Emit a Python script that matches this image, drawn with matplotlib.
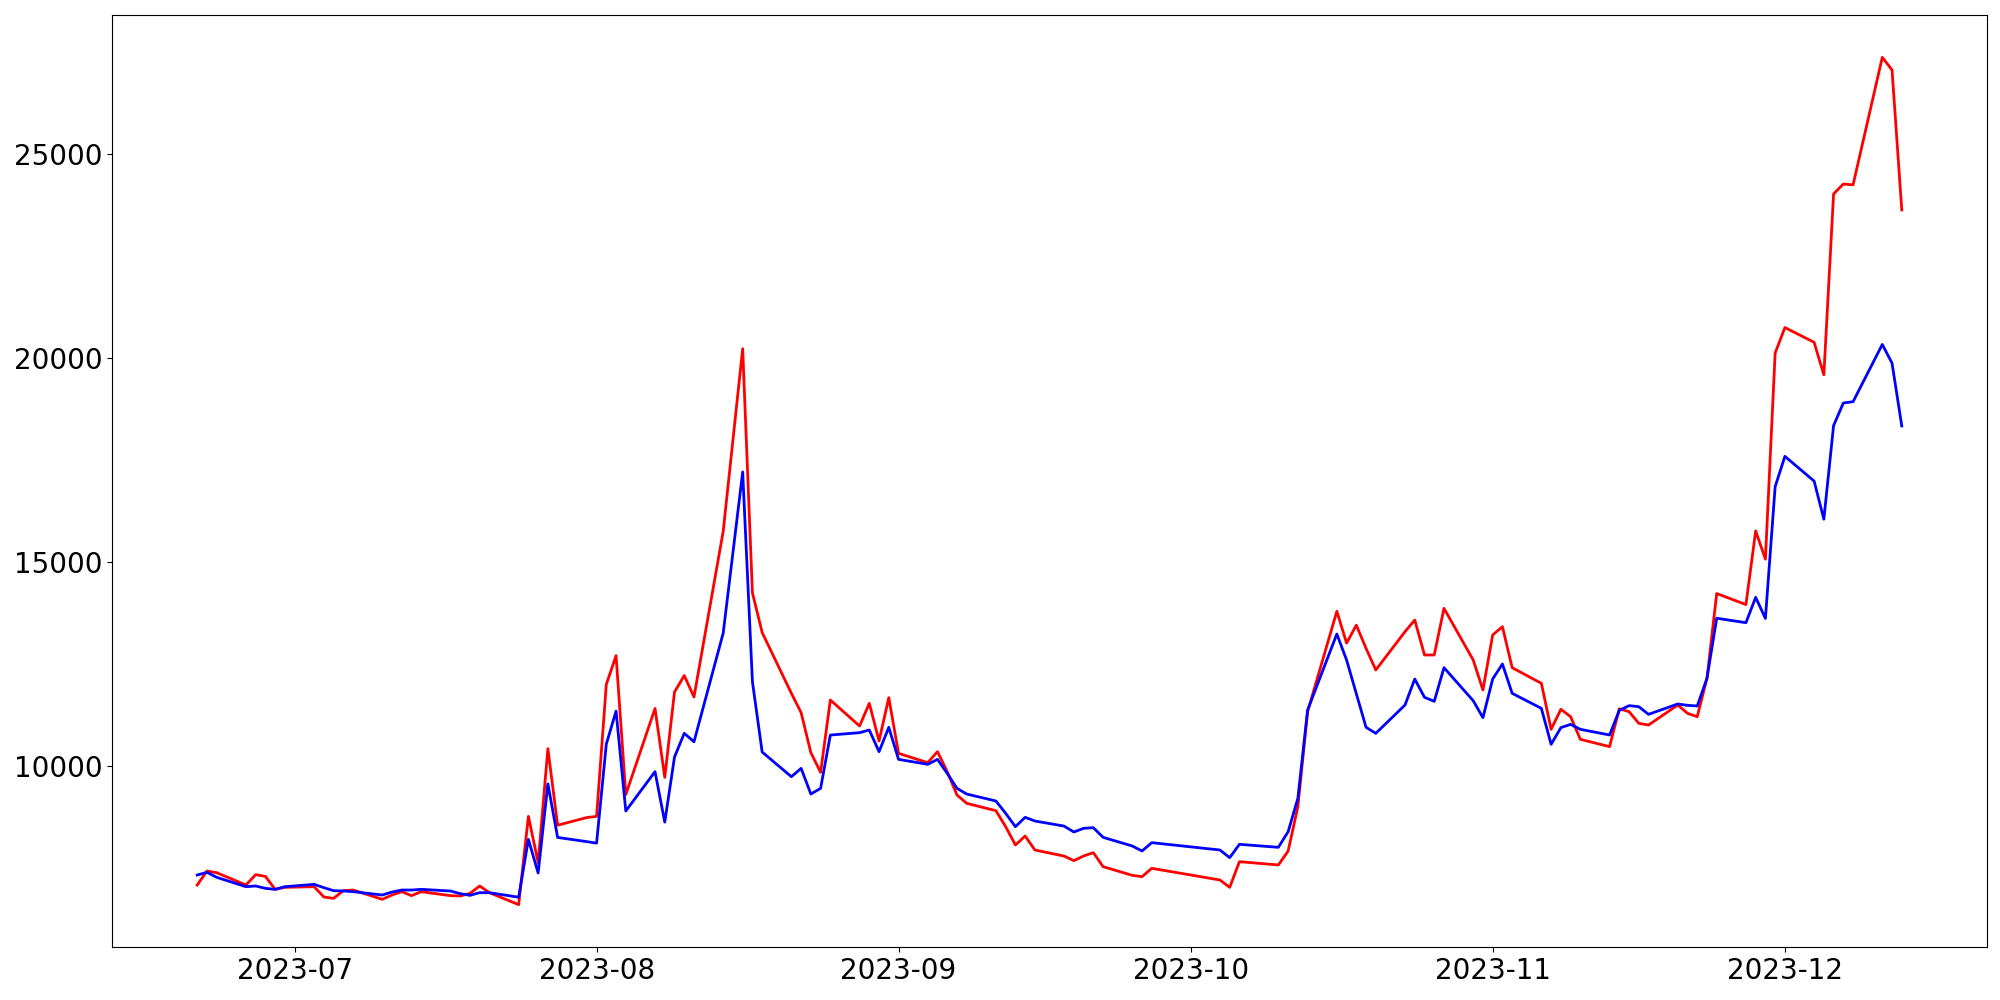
import numpy as np
import pandas as pd
import matplotlib
matplotlib.use('Agg')
import matplotlib.pyplot as plt
import matplotlib.dates as mdates

dates = ['2023-06-21', '2023-06-22', '2023-06-23', '2023-06-26', '2023-06-27', '2023-06-28',
         '2023-06-29', '2023-06-30', '2023-07-03', '2023-07-04', '2023-07-05', '2023-07-06',
         '2023-07-07', '2023-07-10', '2023-07-11', '2023-07-12', '2023-07-13', '2023-07-14',
         '2023-07-17', '2023-07-18', '2023-07-19', '2023-07-20', '2023-07-21', '2023-07-24',
         '2023-07-25', '2023-07-26', '2023-07-27', '2023-07-28', '2023-07-31', '2023-08-01',
         '2023-08-02', '2023-08-03', '2023-08-04', '2023-08-07', '2023-08-08', '2023-08-09',
         '2023-08-10', '2023-08-11', '2023-08-14', '2023-08-16', '2023-08-17', '2023-08-18',
         '2023-08-21', '2023-08-22', '2023-08-23', '2023-08-24', '2023-08-25', '2023-08-28',
         '2023-08-29', '2023-08-30', '2023-08-31', '2023-09-01', '2023-09-04', '2023-09-05',
         '2023-09-06', '2023-09-07', '2023-09-08', '2023-09-11', '2023-09-12', '2023-09-13',
         '2023-09-14', '2023-09-15', '2023-09-18', '2023-09-19', '2023-09-20', '2023-09-21',
         '2023-09-22', '2023-09-25', '2023-09-26', '2023-09-27', '2023-10-04', '2023-10-05',
         '2023-10-06', '2023-10-10', '2023-10-11', '2023-10-12', '2023-10-13', '2023-10-16',
         '2023-10-17', '2023-10-18', '2023-10-19', '2023-10-20', '2023-10-23', '2023-10-24',
         '2023-10-25', '2023-10-26', '2023-10-27', '2023-10-30', '2023-10-31', '2023-11-01',
         '2023-11-02', '2023-11-03', '2023-11-06', '2023-11-07', '2023-11-08', '2023-11-09',
         '2023-11-10', '2023-11-13', '2023-11-14', '2023-11-15', '2023-11-16', '2023-11-17',
         '2023-11-20', '2023-11-21', '2023-11-22', '2023-11-23', '2023-11-24', '2023-11-27',
         '2023-11-28', '2023-11-29', '2023-11-30', '2023-12-01', '2023-12-04', '2023-12-05',
         '2023-12-06', '2023-12-07', '2023-12-08', '2023-12-11', '2023-12-12', '2023-12-13']

red_vals = [7071, 7414, 7373, 7071, 7324, 7283, 6965, 7014, 7030, 6777, 6744, 6932,
            6948, 6720, 6826, 6908, 6810, 6908, 6810, 6802, 6867, 7047, 6883, 6590,
            8753, 7618, 10413, 8537, 8725, 8753, 11989, 12693, 9288, 11398, 9710, 11802,
            12205, 11680, 15741, 20216, 14231, 13260, 11769, 11295, 10315, 9833, 11606, 10968,
            11524, 10601, 11663, 10298, 10070, 10339, 9849, 9277, 9073, 8893, 8501, 8052,
            8272, 7929, 7780, 7668, 7782, 7864, 7521, 7308, 7276, 7480, 7194, 7014,
            7643, 7562, 7905, 8991, 11320, 13780, 13000, 13440, 12872, 12341, 13281, 13566,
            12709, 12709, 13852, 12586, 11851, 13199, 13403, 12398, 12014, 10887, 11377, 11197,
            10642, 10462, 11390, 11320, 11034, 10993, 11483, 11279, 11197, 12137, 14215, 13945,
            15750, 15058, 20108, 20735, 20373, 19576, 24009, 24253, 24232, 27357, 27049, 23616]

blue_vals = [7316, 7382, 7259, 7030, 7047, 6989, 6965, 7030, 7087, 7006, 6932, 6924,
             6908, 6826, 6899, 6948, 6948, 6965, 6924, 6859, 6818, 6883, 6883, 6772,
             8190, 7365, 9550, 8237, 8134, 8097, 10526, 11333, 8885, 9850, 8612, 10207,
             10789, 10582, 13246, 17195, 12055, 10330, 9726, 9930, 9301, 9440, 10747, 10805,
             10870, 10339, 10935, 10151, 10029, 10151, 9808, 9440, 9301, 9130, 8828, 8501,
             8730, 8640, 8515, 8370, 8460, 8476, 8240, 8027, 7905, 8109, 7929, 7741,
             8068, 7995, 8378, 9196, 11361, 13223, 12586, 11761, 10936, 10789, 11483, 12120,
             11671, 11573, 12398, 11589, 11173, 12120, 12488, 11769, 11401, 10519, 10928, 11009,
             10887, 10748, 11350, 11467, 11442, 11254, 11508, 11475, 11459, 12137, 13610, 13500,
             14122, 13605, 16834, 17578, 16972, 16037, 18332, 18885, 18917, 20320, 19863, 18322]

x = pd.to_datetime(dates)

fig = plt.figure(figsize=(20, 10), dpi=100)
ax = fig.add_axes([0.056, 0.053, 0.9375, 0.932])
ax.plot(x, red_vals, color='red', linewidth=2)
ax.plot(x, blue_vals, color='blue', linewidth=2)

ax.xaxis.set_major_locator(mdates.MonthLocator())
ax.xaxis.set_major_formatter(mdates.DateFormatter('%Y-%m'))
ax.tick_params(axis='both', labelsize=20)

fig.savefig('out.png', dpi=100)
